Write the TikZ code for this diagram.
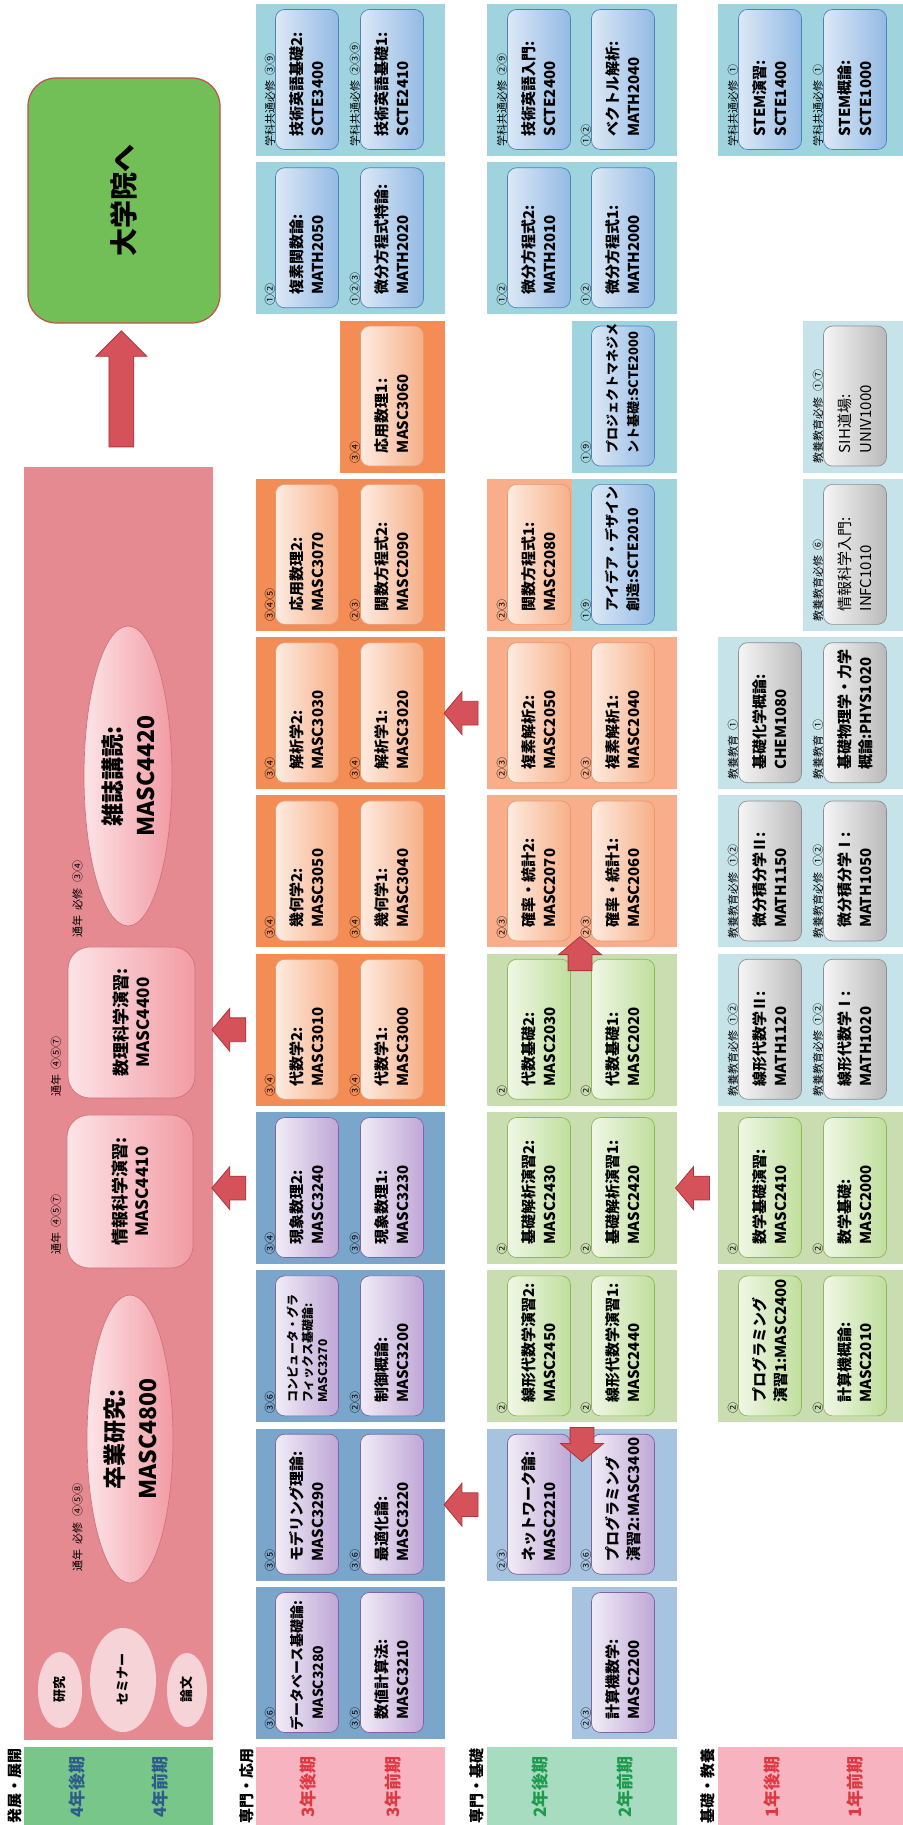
\documentclass[tikz,border=0pt]{standalone}
\usepackage{fontspec}
\setmainfont{Noto Sans CJK JP}
\usetikzlibrary{shapes.geometric,shapes.arrows,calc}

\definecolor{panelcyan}{HTML}{9FD4DF}
\definecolor{panelcyanlt}{HTML}{C6E3EA}
\definecolor{panelorange}{HTML}{F48C55}
\definecolor{panelorangelt}{HTML}{F8AE8A}
\definecolor{panelblue}{HTML}{7BA6CB}
\definecolor{panelbluelt}{HTML}{A6C3DF}
\definecolor{panelgreen}{HTML}{C9DDB1}
\definecolor{pinkbig}{HTML}{E68A91}
\definecolor{labelpink}{HTML}{F7B3BF}
\definecolor{labelgreen}{HTML}{78C68A}
\definecolor{labelmint}{HTML}{A7DCC1}
\definecolor{labelred}{HTML}{DC3A40}
\definecolor{labelnavy}{HTML}{2E5C8A}
\definecolor{labelgreentxt}{HTML}{1F9A4C}
\definecolor{gradgreen}{HTML}{72BF58}
\definecolor{gradedge}{HTML}{C0504D}
\definecolor{arrowred}{HTML}{D5525A}
\definecolor{arrowedge}{HTML}{A8383E}
\definecolor{cyanL}{HTML}{DCE8F6}
\definecolor{cyanR}{HTML}{93BAE4}
\definecolor{cyanE}{HTML}{4F81BD}
\definecolor{peachL}{HTML}{FDEBE0}
\definecolor{peachR}{HTML}{F6AF88}
\definecolor{peachE}{HTML}{E59A72}
\definecolor{purpleL}{HTML}{F1ECF6}
\definecolor{purpleR}{HTML}{BFA7D6}
\definecolor{purpleE}{HTML}{8064A2}
\definecolor{greenL}{HTML}{F0F7E6}
\definecolor{greenR}{HTML}{C0DE9C}
\definecolor{greenE}{HTML}{8DB85A}
\definecolor{grayL}{HTML}{F5F5F5}
\definecolor{grayR}{HTML}{BABABA}
\definecolor{grayE}{HTML}{8F8F8F}
\definecolor{pinkL}{HTML}{FCE4E7}
\definecolor{pinkR}{HTML}{F29BA4}
\definecolor{pinkE}{HTML}{D0727B}
\definecolor{pinksoft}{HTML}{F6D3D6}

\def \boxW {140}
\def \boxH {63}
\def \gap {\enspace{}}
% centre of a column of panels (landscape x)
\newcommand{\cx}[1]{158.3*#1+3.7}

% name, column, top, bottom, colour
\newcommand{\panel}[5]{\node[panel, fill=#5, minimum height={#4-#3}] (#1) at ({\cx{#2}}, {-(#3+#4)/2}) {};}

% name, column, y, style, note, text
\newcommand{\course}[6]{%
  \node[#4] (#1) at ({\cx{#2}+0.5}, #3) {#6};
  \node[note] (#1n) at ({\cx{#2}-67}, {#3+37}) {#5};}

\tikzset{
  panel/.style={rectangle, minimum width=152, inner sep=0, draw=none},
  cbox/.style={rectangle, rounded corners=9, minimum width=\boxW, minimum height=\boxH,
    text width=114, inner xsep=13, inner ysep=0, align=left, line width=0.7,
    font=\fontsize{15}{21}\selectfont\bfseries},
  cyanbox/.style={cbox, draw=cyanE, left color=cyanL, right color=cyanR},
  peachbox/.style={cbox, draw=peachE, left color=peachL, right color=peachR},
  purplebox/.style={cbox, draw=purpleE, left color=purpleL, right color=purpleR},
  greenbox/.style={cbox, draw=greenE, left color=greenL, right color=greenR},
  graybox/.style={cbox, draw=grayE, left color=grayL, right color=grayR},
  note/.style={anchor=west, inner sep=0, font=\fontsize{11}{11}\selectfont},
  pinkbox/.style={rectangle, rounded corners=22, align=center, line width=0.7, draw=pinkE,
    left color=pinkL, right color=pinkR, font=\fontsize{17}{22}\selectfont\bfseries},
  pinkell/.style={ellipse, inner sep=0, align=center, line width=0.7, draw=pinkE,
    left color=pinkL, right color=pinkR, font=\fontsize{23}{33}\selectfont\bfseries},
  smallell/.style={ellipse, inner sep=0, fill=pinksoft, font=\fontsize{13}{13}\selectfont\bfseries},
  redarrow/.style={single arrow, draw=arrowedge, fill=arrowred, line width=0.8, inner xsep=0,
    inner ysep=11.5, minimum height=34, single arrow head extend=9.5, single arrow tip angle=100},
  termtxt/.style={inner sep=0, font=\fontsize{17}{17}\selectfont\bfseries},
  headtxt/.style={inner sep=0, font=\fontsize{15}{15}\selectfont\bfseries}
}

\begin{document}
\begin{tikzpicture}[x=1pt, y=1pt]
\fill[white] (0,0) rectangle (902,1825);
\useasboundingbox (0,0) rectangle (902,1825);
\begin{scope}[rotate=90, transform shape]

% term labels
\node[panel, fill=labelgreen, minimum width=78, minimum height=189, anchor=north west] (lA) at (0,-24) {};
\node[panel, fill=labelpink, minimum width=78, minimum height=189, anchor=north west] (lB) at (0,-256) {};
\node[panel, fill=labelmint, minimum width=78, minimum height=190, anchor=north west] (lC) at (0,-487) {};
\node[panel, fill=labelpink, minimum width=78, minimum height=189, anchor=north west] (lD) at (0,-718) {};
\node[headtxt] (hA) at (39,-15) {発展・展開};
\node[headtxt] (hB) at (39,-247) {専門・応用};
\node[headtxt] (hC) at (39,-477) {専門・基礎};
\node[headtxt] (hD) at (39,-708) {基礎・教養};
\node[termtxt, text=labelnavy] (tA2) at (38,-77) {4年後期};
\node[termtxt, text=labelnavy] (tA1) at (38,-160) {4年前期};
\node[termtxt, text=labelred] (tB2) at (38,-308) {3年後期};
\node[termtxt, text=labelred] (tB1) at (38,-393) {3年前期};
\node[termtxt, text=labelgreentxt] (tC2) at (38,-540) {2年後期};
\node[termtxt, text=labelgreentxt] (tC1) at (38,-625) {2年前期};
\node[termtxt, text=labelred] (tD2) at (38,-772) {1年後期};
\node[termtxt, text=labelred] (tD1) at (38,-855) {1年前期};

% 4th year
\node[panel, fill=pinkbig, minimum width=1273, minimum height=189, anchor=north west] (pA) at (85,-24) {};
\node[rectangle, rounded corners=28, minimum width=245, minimum height=192, fill=gradgreen,
  draw=gradedge, line width=1.2, font=\fontsize{28}{28}\selectfont\bfseries] (grad) at (1624.5,-124) {大学院へ};
\node[redarrow, minimum height=116, inner ysep=12, single arrow head extend=13,
  single arrow tip angle=90] (up) at ($(pA.east)!0.5!(grad.west)$) {};
\node[smallell, minimum width=76, minimum height=44] (kenkyu) at (135,-60) {研究};
\node[smallell, minimum width=104, minimum height=66] (semi) at (145,-123) {セミナー};
\node[smallell, minimum width=74, minimum height=40] (ronbun) at (135,-187) {論文};
\node[pinkell, minimum width=288, minimum height=86] (sotsu) at (386,-130) {卒業研究:\\MASC4800};
\node[pinkbox, minimum width=153, minimum height=126] (joho) at (633.5,-130) {情報科学演習:\\MASC4410};
\node[pinkbox, minimum width=151, minimum height=127] (suri) at (802.5,-131.5) {数理科学演習:\\MASC4400};
\node[pinkell, minimum width=300, minimum height=88] (zasshi) at (1049,-128) {雑誌講読:\\MASC4420};
\node[note] (sotsun) at (253,-77.5) {通年\gap 必修\gap ④⑤⑧};
\node[note] (johon) at (570,-56) {通年\gap ④⑤⑦};
\node[note] (surin) at (728,-56) {通年\gap ④⑤⑦};
\node[note] (zasshin) at (887,-77.5) {通年\gap 必修\gap ③④};

% 3rd year
\panel{pB11}{11}{256}{445}{panelcyan}
\panel{pB10}{10}{256}{445}{panelcyan}
\panel{pB9}{9}{340}{445}{panelorange}
\panel{pB8}{8}{256}{445}{panelorange}
\panel{pB7}{7}{256}{445}{panelorange}
\panel{pB6}{6}{256}{445}{panelorange}
\panel{pB5}{5}{256}{445}{panelorange}
\panel{pB4}{4}{256}{445}{panelblue}
\panel{pB3}{3}{256}{445}{panelblue}
\panel{pB2}{2}{256}{445}{panelblue}
\panel{pB1}{1}{256}{445}{panelblue}
\course{b11u}{11}{-307}{cyanbox}{学科共通必修\gap ③⑨}{技術英語基礎2:\\SCTE3400}
\course{b11l}{11}{-392}{cyanbox}{学科共通必修\gap ②③⑨}{技術英語基礎1:\\SCTE2410}
\course{b10u}{10}{-307}{cyanbox}{①②}{複素関数論:\\MATH2050}
\course{b10l}{10}{-392}{cyanbox}{①②③}{微分方程式特論:\\MATH2020}
\course{b9l}{9}{-392}{peachbox}{③④}{応用数理1:\\MASC3060}
\course{b8u}{8}{-307}{peachbox}{③④⑤}{応用数理2:\\MASC3070}
\course{b8l}{8}{-392}{peachbox}{②③}{関数方程式2:\\MASC2090}
\course{b7u}{7}{-307}{peachbox}{③④}{解析学2:\\MASC3030}
\course{b7l}{7}{-392}{peachbox}{③④}{解析学1:\\MASC3020}
\course{b6u}{6}{-307}{peachbox}{③④}{幾何学2:\\MASC3050}
\course{b6l}{6}{-392}{peachbox}{③④}{幾何学1:\\MASC3040}
\course{b5u}{5}{-307}{peachbox}{③④}{代数学2:\\MASC3010}
\course{b5l}{5}{-392}{peachbox}{③④}{代数学1:\\MASC3000}
\course{b4u}{4}{-307}{purplebox}{③④}{現象数理2:\\MASC3240}
\course{b4l}{4}{-392}{purplebox}{③⑨}{現象数理1:\\MASC3230}
\course{b3u}{3}{-307}{purplebox, font=\fontsize{12}{15}\selectfont\bfseries}{③⑥}{コンピュータ・グラ\\フィックス基礎論:\\MASC3270}
\course{b3l}{3}{-392}{purplebox}{②③}{制御概論:\\MASC3200}
\course{b2u}{2}{-307}{purplebox}{③⑤}{モデリング理論:\\MASC3290}
\course{b2l}{2}{-392}{purplebox}{③⑥}{最適化論:\\MASC3220}
\course{b1u}{1}{-307}{purplebox, font=\fontsize{14}{21}\selectfont\bfseries}{③⑥}{\hspace*{-11pt}データベース基礎論:\\MASC3280}
\course{b1l}{1}{-392}{purplebox}{③⑤}{数値計算法:\\MASC3210}

% 2nd year
\panel{pC11}{11}{487}{677}{panelcyan}
\panel{pC10}{10}{487}{677}{panelcyan}
\panel{pC9}{9}{572}{677}{panelcyan}
\panel{pC8o}{8}{487}{572}{panelorangelt}
\panel{pC8c}{8}{572}{677}{panelcyan}
\panel{pC7}{7}{487}{677}{panelorangelt}
\panel{pC6}{6}{487}{677}{panelorangelt}
\panel{pC5}{5}{487}{677}{panelgreen}
\panel{pC4}{4}{487}{677}{panelgreen}
\panel{pC3}{3}{487}{677}{panelgreen}
\panel{pC2}{2}{487}{677}{panelbluelt}
\panel{pC1}{1}{572}{677}{panelbluelt}
\course{c11u}{11}{-539}{cyanbox}{学科共通必修\gap ②⑨}{技術英語入門:\\SCTE2400}
\course{c11l}{11}{-623}{cyanbox}{①②}{ベクトル解析:\\MATH2040}
\course{c10u}{10}{-539}{cyanbox}{①②}{微分方程式2:\\MATH2010}
\course{c10l}{10}{-623}{cyanbox}{①②}{微分方程式1:\\MATH2000}
\course{c9l}{9}{-623}{cyanbox, font=\fontsize{13}{21}\selectfont\bfseries}{①⑨}{プロジェクトマネジメ\\ント基礎:SCTE2000}
\course{c8u}{8}{-539}{peachbox}{②③}{関数方程式1:\\MASC2080}
\course{c8l}{8}{-623}{cyanbox, font=\fontsize{14}{21}\selectfont\bfseries}{①⑨}{アイデア・デザイン\\創造:SCTE2010}
\course{c7u}{7}{-539}{peachbox}{②③}{複素解析2:\\MASC2050}
\course{c7l}{7}{-623}{peachbox}{②③}{複素解析1:\\MASC2040}
\course{c6u}{6}{-539}{peachbox}{②③}{確率・統計2:\\MASC2070}
\course{c6l}{6}{-623}{peachbox}{②③}{確率・統計1:\\MASC2060}
\course{c5u}{5}{-539}{greenbox}{②}{代数基礎2:\\MASC2030}
\course{c5l}{5}{-623}{greenbox}{②}{代数基礎1:\\MASC2020}
\course{c4u}{4}{-539}{greenbox}{②}{基礎解析演習2:\\MASC2430}
\course{c4l}{4}{-623}{greenbox}{②}{基礎解析演習1:\\MASC2420}
\course{c3u}{3}{-539}{greenbox}{②}{線形代数学演習2:\\MASC2450}
\course{c3l}{3}{-623}{greenbox}{②}{線形代数学演習1:\\MASC2440}
\course{c2u}{2}{-539}{purplebox}{②③}{ネットワーク論:\\MASC2210}
\course{c2l}{2}{-623}{purplebox}{③⑥}{プログラミング\\演習2:MASC3400}
\course{c1l}{1}{-623}{purplebox}{②③}{計算機数学:\\MASC2200}

% 1st year
\panel{pD11}{11}{718}{907}{panelcyan}
\panel{pD9}{9}{803}{907}{panelcyanlt}
\panel{pD8}{8}{803}{907}{panelcyanlt}
\panel{pD7}{7}{718}{907}{panelcyanlt}
\panel{pD6}{6}{718}{907}{panelcyanlt}
\panel{pD5}{5}{718}{907}{panelcyanlt}
\panel{pD4}{4}{718}{907}{panelgreen}
\panel{pD3}{3}{718}{907}{panelgreen}
\course{d11u}{11}{-770}{cyanbox}{学科共通必修\gap ①}{STEM演習:\\SCTE1400}
\course{d11l}{11}{-855}{cyanbox}{学科共通必修\gap ①}{STEM概論:\\SCTE1000}
\course{d9l}{9}{-855}{graybox, font=\fontsize{15}{21}\selectfont}{教養教育必修\gap ①⑦}{SIH道場:\\UNIV1000}
\course{d8l}{8}{-855}{graybox, font=\fontsize{15}{21}\selectfont}{教養教育必修\gap ⑥}{情報科学入門:\\INFC1010}
\course{d7u}{7}{-770}{graybox}{教養教育\gap ①}{基礎化学概論:\\CHEM1080}
\course{d7l}{7}{-855}{graybox}{教養教育\gap ①}{基礎物理学・力学\\概論:PHYS1020}
\course{d6u}{6}{-770}{graybox}{教養教育必修\gap ①②}{微分積分学Ⅱ:\\MATH1150}
\course{d6l}{6}{-855}{graybox}{教養教育必修\gap ①②}{微分積分学Ⅰ:\\MATH1050}
\course{d5u}{5}{-770}{graybox}{教養教育必修\gap ①②}{線形代数学Ⅱ:\\MATH1120}
\course{d5l}{5}{-855}{graybox}{教養教育必修\gap ①②}{線形代数学Ⅰ:\\MATH1020}
\course{d4u}{4}{-770}{greenbox}{②}{数学基礎演習:\\MASC2410}
\course{d4l}{4}{-855}{greenbox}{②}{数学基礎:\\MASC2000}
\course{d3u}{3}{-770}{greenbox}{②}{プログラミング\\演習1:MASC2400}
\course{d3l}{3}{-855}{greenbox}{②}{計算機概論:\\MASC2010}

% flow arrows
\node[redarrow, rotate=90] (ar1) at ($(pB5.north)+(0,22)$) {};
\node[redarrow, rotate=90] (ar2) at ($(pB4.north)+(0,22)$) {};
\node[redarrow, rotate=90] (ar3) at ($(pC7.north)!0.5!(pB7.south)$) {};
\node[redarrow, rotate=90] (ar4) at ($(pC2.north)!0.5!(pB2.south)$) {};
\node[redarrow, rotate=90] (ar5) at ($(pD4.north)!0.5!(pC4.south)$) {};
\node[redarrow] (ar6) at ($(pC5.east)!0.5!(pC6.west)+(-8,2)$) {};
\node[redarrow, rotate=180] (ar7) at ($(pC3.west)!0.5!(pC2.east)+(-14,0)$) {};

\end{scope}
\end{tikzpicture}
\end{document}
